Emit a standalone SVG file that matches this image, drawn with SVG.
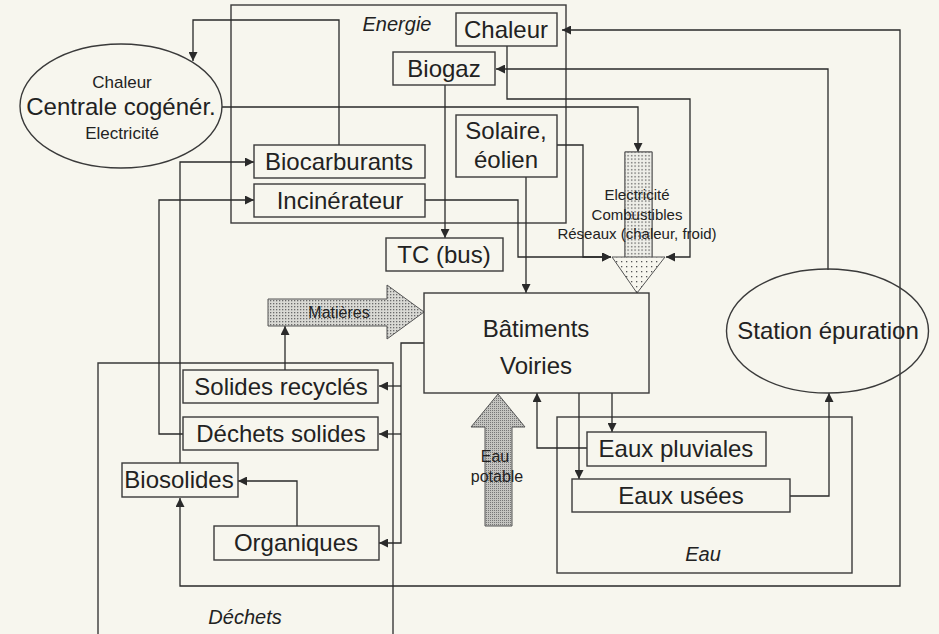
<svg xmlns="http://www.w3.org/2000/svg" width="939" height="634" viewBox="0 0 939 634">
<defs>
<pattern id="dots" width="3" height="3" patternUnits="userSpaceOnUse"><rect width="3" height="3" fill="#d9d9d4"/><rect x="0" y="0" width="1.3" height="1.3" fill="#6a6a6a"/></pattern>
<pattern id="dotsLight" width="5" height="5" patternUnits="userSpaceOnUse"><rect width="5" height="5" fill="#f7f6ee"/><rect x="1" y="1" width="1.3" height="1.3" fill="#555"/></pattern>
<pattern id="dotsShaft" width="3.5" height="3.5" patternUnits="userSpaceOnUse"><rect width="3.5" height="3.5" fill="#eeeee8"/><rect x="1" y="1" width="1.3" height="1.3" fill="#555"/></pattern>
<pattern id="dotsDark" width="2" height="2" patternUnits="userSpaceOnUse"><rect width="2" height="2" fill="#c4c4c0"/><rect x="0" y="0" width="1" height="1" fill="#777"/></pattern>
<marker id="ah" viewBox="0 0 10 10" refX="10" refY="5" markerWidth="9" markerHeight="9" orient="auto-start-reverse" markerUnits="userSpaceOnUse"><path d="M0,0 L10,5 L0,10 z" fill="#2a2a2a"/></marker>
</defs>
<style>
.box{fill:none;stroke:#3a3a3a;stroke-width:1.4}
.frame{fill:none;stroke:#3a3a3a;stroke-width:1.4}
.lbl{font-family:"Liberation Sans",Arial,sans-serif;font-size:24px;fill:#222;text-anchor:middle}
.sm{font-family:"Liberation Sans",Arial,sans-serif;font-size:16px;fill:#222;text-anchor:middle}
.it{font-family:"Liberation Sans",Arial,sans-serif;font-size:20px;font-style:italic;fill:#222;text-anchor:middle}
.c{fill:none;stroke:#2a2a2a;stroke-width:1.3;marker-end:url(#ah)}
</style>
<rect width="939" height="634" fill="#f7f6ee"/>

<g id="frames">
<rect class="frame" x="231" y="5" width="335" height="218"/>
<path class="frame" d="M98,640 V363 H393 V640"/>
<rect class="frame" x="557" y="417" width="295" height="156"/>
<text class="it" x="397" y="31">Energie</text>
<text class="it" x="245" y="624">Déchets</text>
<text class="it" x="703" y="561">Eau</text>
</g>

<g id="connectors">
<path class="c" d="M339,145 V20 H193 V61"/>
<path class="c" d="M222,107 H638 V152"/>
<path class="c" d="M828,270 V69 H496"/>
<path class="c" d="M562,30 H900 V586 H180 V498" style="marker-start:url(#ah)"/>
<path class="c" d="M507,46 V99 H690 V257 H666"/>
<path class="c" d="M445,85 V238"/>
<path class="c" d="M557,145 H583 V257 H611"/>
<path class="c" d="M425,200 H518 V257 H611"/>
<path class="c" d="M526,177 V293"/>
<path class="c" d="M180,463 V162 H254"/>
<path class="c" d="M183,434 H159 V200 H254"/>
<path class="c" d="M285,370 V326"/>
<path class="c" d="M424,343 H401 V543 H379"/>
<path class="c" d="M401,386 H379"/>
<path class="c" d="M401,434 H379"/>
<path class="c" d="M297,526 V481 H238"/>
<path class="c" d="M579,393 V479"/>
<path class="c" d="M612,393 V432"/>
<path class="c" d="M587,448 H537 V393"/>
<path class="c" d="M790,496 H829 V393"/>
</g>

<g id="centrale">
<ellipse class="box" cx="121" cy="106" rx="101" ry="62"/>
<text class="sm" x="122" y="88" style="font-size:17px">Chaleur</text>
<text class="lbl" x="121" y="115">Centrale cogénér.</text>
<text class="sm" x="122" y="139" style="font-size:17px">Electricité</text>
</g>

<g id="chaleur"><rect class="box" x="456" y="13" width="101" height="33"/><text class="lbl" x="506" y="38">Chaleur</text></g>
<g id="biogaz"><rect class="box" x="393" y="52" width="102" height="33"/><text class="lbl" x="444" y="77">Biogaz</text></g>
<g id="solaire"><rect class="box" x="456" y="115" width="101" height="62"/><text class="lbl" x="506" y="139">Solaire,</text><text class="lbl" x="506" y="168">éolien</text></g>
<g id="biocarburants"><rect class="box" x="254" y="145" width="171" height="33"/><text class="lbl" x="339" y="170">Biocarburants</text></g>
<g id="incinerateur"><rect class="box" x="254" y="184" width="171" height="33"/><text class="lbl" x="340" y="209">Incinérateur</text></g>
<g id="tc"><rect class="box" x="386" y="238" width="117" height="33"/><text class="lbl" x="444" y="263">TC (bus)</text></g>

<g id="electricite">
<path d="M625,152 H652 V257 H665 L637,293 L612,257 H625 Z" fill="url(#dotsLight)" stroke="#555" stroke-width="1"/>
<rect x="625" y="152" width="27" height="105" fill="url(#dotsShaft)" stroke="#555" stroke-width="1"/>
<text class="sm" x="637" y="200" style="font-size:15px">Electricité</text>
<text class="sm" x="637" y="220" style="font-size:15px">Combustibles</text>
<text class="sm" x="637" y="239" style="font-size:15px">Réseaux (chaleur, froid)</text>
</g>

<g id="matieres">
<path d="M268,299 H387 V285 L424,312 L387,339 V326 H268 Z" fill="url(#dots)" stroke="#555" stroke-width="1"/>
<text class="sm" x="339" y="318">Matières</text>
</g>

<g id="batiments"><rect class="box" x="424" y="293" width="225" height="100"/><text class="lbl" x="536" y="337">Bâtiments</text><text class="lbl" x="536" y="374">Voiries</text></g>

<g id="station"><ellipse class="box" cx="827.5" cy="331" rx="101" ry="62"/><text class="lbl" x="828" y="339">Station épuration</text></g>

<g id="eaupotable">
<path d="M485,526 V427 H471 L498,394 L525,427 H512 V526 Z" fill="url(#dotsDark)" stroke="#555" stroke-width="1"/>
<text class="sm" x="495" y="462">Eau</text>
<text class="sm" x="497" y="482">potable</text>
</g>

<g id="solidesrecycles"><rect class="box" x="183" y="370" width="195" height="33"/><text class="lbl" x="281" y="395">Solides recyclés</text></g>
<g id="dechetssolides"><rect class="box" x="183" y="417" width="195" height="33"/><text class="lbl" x="281" y="442">Déchets solides</text></g>
<g id="biosolides"><rect class="box" x="122" y="463" width="116" height="34"/><text class="lbl" x="179" y="488">Biosolides</text></g>
<g id="organiques"><rect class="box" x="214" y="526" width="165" height="34"/><text class="lbl" x="296" y="551">Organiques</text></g>
<g id="eauxpluviales"><rect class="box" x="587" y="432" width="179" height="34"/><text class="lbl" x="676" y="457">Eaux pluviales</text></g>
<g id="eauxusees"><rect class="box" x="572" y="479" width="218" height="33"/><text class="lbl" x="681" y="504">Eaux usées</text></g>
</svg>
